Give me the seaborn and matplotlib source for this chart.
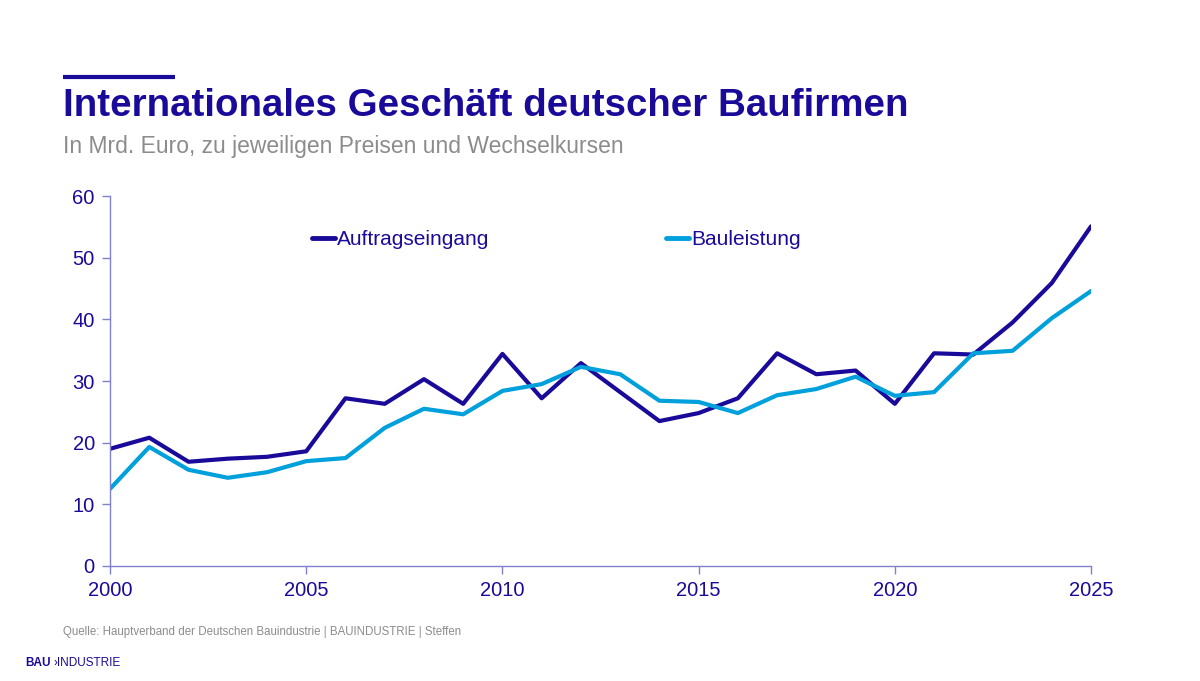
import seaborn as sns
import pandas as pd
import matplotlib.pyplot as plt

# Daten (Mrd. Euro)
jahre = list(range(2000, 2026))
auftragseingang = [19.0, 20.8, 16.9, 17.4, 17.7, 18.6, 27.2, 26.3, 30.3, 26.3,
                   34.4, 27.2, 32.9, 28.2, 23.5, 24.8, 27.2, 34.5, 31.1, 31.7,
                   26.3, 34.5, 34.3, 39.5, 45.9, 55.1]
bauleistung = [12.5, 19.3, 15.6, 14.3, 15.2, 17.0, 17.5, 22.4, 25.5, 24.6,
               28.4, 29.5, 32.3, 31.1, 26.8, 26.6, 24.8, 27.7, 28.7, 30.7,
               27.6, 28.2, 34.5, 34.9, 40.2, 44.6]
x_ticks = [2000, 2005, 2010, 2015, 2020, 2025]
y_ticks = [0, 10, 20, 30, 40, 50, 60]

DUNKEL = '#1a0a9a'
HELL = '#00a0dc'
ACHSE = '#8080d0'

df = pd.DataFrame({'Jahr': jahre, 'Auftragseingang': auftragseingang, 'Bauleistung': bauleistung})
df = df.melt(id_vars='Jahr', var_name='Reihe', value_name='Wert')

sns.set_theme(style='white')
plt.rcParams['font.family'] = ['Liberation Sans', 'DejaVu Sans']

fig = plt.figure(figsize=(12, 6.81), dpi=100)
ax = fig.add_axes([0.0917, 0.169, 0.8175, 0.543])

sns.lineplot(data=df, x='Jahr', y='Wert', hue='Reihe',
             palette={'Auftragseingang': DUNKEL, 'Bauleistung': HELL},
             linewidth=3, ax=ax)

ax.set_xlim(2000, 2025)
ax.set_ylim(0, 60)
ax.set_xticks(x_ticks)
ax.set_yticks(y_ticks)
ax.set_xlabel('')
ax.set_ylabel('')
for s in ['top', 'right']:
    ax.spines[s].set_visible(False)
for s in ['left', 'bottom']:
    ax.spines[s].set_color(ACHSE)
    ax.spines[s].set_linewidth(1)
ax.tick_params(axis='both', colors=ACHSE, labelcolor=DUNKEL, labelsize=14.5,
               length=6, width=1, direction='out', bottom=True, left=True)
ax.tick_params(axis='x', pad=5)
ax.tick_params(axis='y', pad=5)

leg = ax.legend(loc='upper left', bbox_to_anchor=(0.197, 0.93), ncol=2, frameon=False,
                fontsize=15, handlelength=1.1, handletextpad=0.1, columnspacing=8.5,
                borderaxespad=0)
for t in leg.get_texts():
    t.set_color(DUNKEL)
for l in leg.get_lines():
    l.set_linewidth(3.5)

# Kopfbereich
fig.add_artist(plt.Line2D([63 / 1200, 175 / 1200], [1 - 77 / 681, 1 - 77 / 681],
                          color=DUNKEL, linewidth=3, solid_capstyle='butt'))
fig.text(63 / 1200, 1 - 106 / 681, 'Internationales Geschäft deutscher Baufirmen',
         fontsize=27.7, fontweight='bold', color=DUNKEL, va='center', ha='left')
fig.text(63 / 1200, 1 - 146 / 681, 'In Mrd. Euro, zu jeweiligen Preisen und Wechselkursen',
         fontsize=16.5, color='#8c8c8c', va='center', ha='left')

# Fußbereich
fig.text(63 / 1200, 1 - 632 / 681,
         'Quelle: Hauptverband der Deutschen Bauindustrie | BAUINDUSTRIE | Steffen',
         fontsize=8.3, color='#8c8c8c', va='center', ha='left')
fig.text(25 / 1200, 1 - 663 / 681, 'BAU', fontsize=8.5, fontweight='bold',
         color=DUNKEL, va='center', ha='left')
fig.text(53 / 1200, 1 - 663 / 681, '\u203aINDUSTRIE', fontsize=8.5,
         color=DUNKEL, va='center', ha='left')

fig.savefig('out.png', dpi=100, facecolor='white')
